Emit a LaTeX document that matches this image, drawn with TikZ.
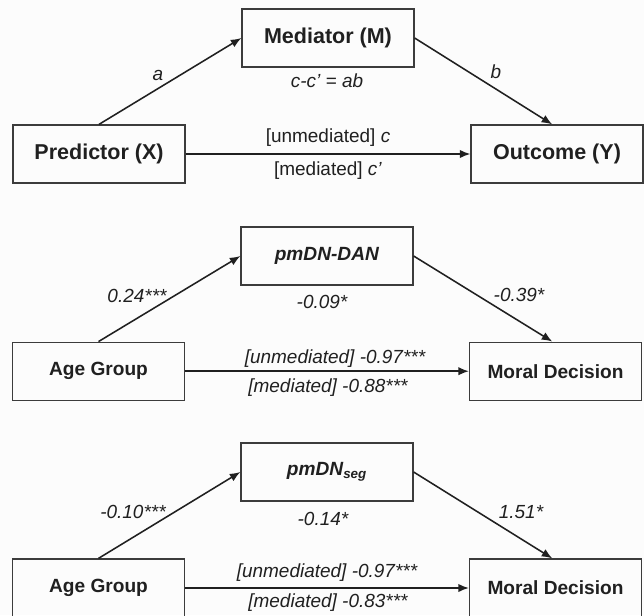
\documentclass[tikz,border=0pt]{standalone}
\usepackage{fontspec}
\setmainfont{Liberation Sans}
\usetikzlibrary{arrows.meta}
\usepackage{xcolor}

\definecolor{ink}{HTML}{202020}
\definecolor{frame}{HTML}{3C3C3C}
\definecolor{paper}{HTML}{FCFCFC}

\tikzset{
  box/.style={draw=frame, line width=0.9pt, minimum width=4.3cm, minimum height=1.45cm,
    inner sep=0pt, text=ink, font=\fontsize{13.6}{16}\selectfont\bfseries},
  bigbox/.style={box, font=\fontsize{15.3}{18}\selectfont\bfseries},
  lbl/.style={text=ink, inner sep=0pt, font=\fontsize{13.5}{16}\selectfont},
  lbli/.style={lbl, font=\fontsize{13.5}{16}\selectfont\itshape},
  arr/.style={draw=ink, line width=1.1pt, -{Latex[length=7.5pt,width=6pt]}},
}

\begin{document}
\begin{tikzpicture}
    \path[use as bounding box, fill=paper] (0,0) rectangle (16.1,-15.375);
    \clip (0,0) rectangle (16.1,-15.375);

    % Generic model
    \node[bigbox] (m1) at (8.2,-0.95) {Mediator (M)};
    \node[bigbox] (x1) at (2.475,-3.85) {Predictor (X)};
    \node[bigbox] (y1) at (13.925,-3.85) {Outcome (Y)};

    \draw[arr] (x1.north) -- (m1.west);
    \draw[arr] (m1.east) -- ([xshift=-0.12cm]y1.north);
    \draw[arr] (x1.east) -- (y1.west);

    \node[lbli] (a1) at (3.95,-1.875) {a};
    \node[lbli] (ab1) at (8.175,-2.025) {c-c’ = ab};
    \node[lbli] (b1) at (12.4,-1.8) {b};
    \node[lbl] (c1) at (8.2,-3.45) {[unmediated] \textit{c}};
    \node[lbl] (cp1) at (8.2,-4.275) {[mediated] \textit{c’}};

    % pmDN-DAN model
    \node[box] (m2) at (8.175,-6.4) {\textit{pmDN-DAN}};
    \node[box] (x2) at (2.4625,-9.28) {Age Group};
    \node[box] (y2) at (13.8875,-9.28) {Moral Decision};

    \draw[arr] (x2.north) -- (m2.west);
    \draw[arr] (m2.east) -- ([xshift=-0.08cm]y2.north);
    \draw[arr] (x2.east) -- (y2.west);

    \node[lbli] (a2) at (3.425,-7.4) {0.24***};
    \node[lbli] (ab2) at (8.05,-7.55) {-0.09*};
    \node[lbli] (b2) at (12.975,-7.375) {-0.39*};
    \node[lbli] (c2) at (8.375,-8.975) {[unmediated] -0.97***};
    \node[lbli] (cp2) at (8.2,-9.7) {[mediated] -0.88***};

    % pmDN_seg model
    \node[box] (m3) at (8.175,-11.8) {\textit{pmDN\textsubscript{seg}}};
    \node[box] (x3) at (2.4625,-14.7) {Age Group};
    \node[box] (y3) at (13.8875,-14.7) {Moral Decision};

    \draw[arr] (x3.north) -- (m3.west);
    \draw[arr] (m3.east) -- ([xshift=-0.08cm]y3.north);
    \draw[arr] (x3.east) -- (y3.west);

    \node[lbli] (a3) at (3.325,-12.8) {-0.10***};
    \node[lbli] (ab3) at (8.075,-12.975) {-0.14*};
    \node[lbli] (b3) at (13.025,-12.8) {1.51*};
    \node[lbli] (c3) at (8.175,-14.325) {[unmediated] -0.97***};
    \node[lbli] (cp3) at (8.2,-15.075) {[mediated] -0.83***};
\end{tikzpicture}
\end{document}
